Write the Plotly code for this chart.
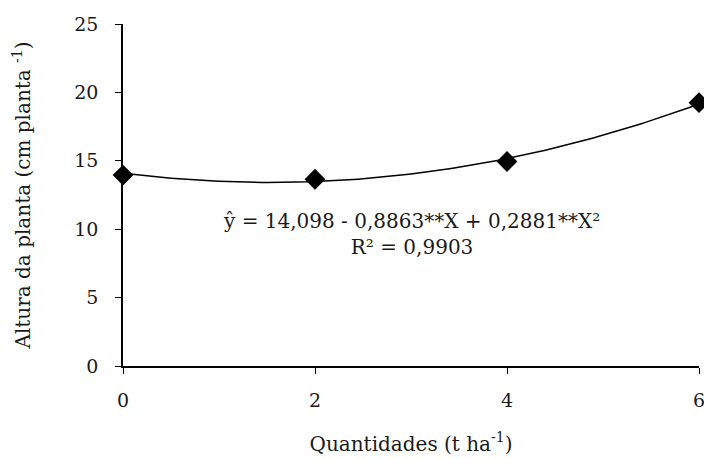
import numpy as np
import plotly.graph_objects as go

quantidades = [0, 2, 4, 6]
altura = [13.96, 13.65, 14.95, 19.25]
coef = [14.098, -0.8863, 0.2881]  # fitted quadratic from the chart's equation

xs = np.linspace(0, 6, 121)
ys = coef[0] + coef[1] * xs + coef[2] * xs ** 2

font = "DejaVu Serif"
tc = "#1a1a1a"

fig = go.Figure()
fig.add_trace(go.Scatter(x=xs, y=ys, mode="lines", cliponaxis=False,
                         line=dict(color="black", width=1.5), showlegend=False))
fig.add_trace(go.Scatter(x=quantidades, y=altura, mode="markers", cliponaxis=False,
                         marker=dict(symbol="diamond", size=16, color="black"),
                         showlegend=False))

fig.add_annotation(x=0.5, y=0.385, xref="paper", yref="paper", showarrow=False,
                   text="ŷ = 14,098 - 0,8863**X + 0,2881**X²<br>R² = 0,9903",
                   font=dict(family=font, size=20, color=tc), align="center")

fig.update_layout(
    width=704, height=459,
    margin=dict(l=123, r=5, t=24, b=93),
    paper_bgcolor="white", plot_bgcolor="white",
    font=dict(family=font, size=19, color=tc),
    xaxis=dict(range=[0, 6], tickvals=[0, 2, 4, 6], showline=True, linecolor="black",
               linewidth=1.5, ticks="outside", ticklen=6, tickcolor="black",
               showgrid=False, zeroline=False, automargin=False,
               ticklabelstandoff=10, ticklabeloverflow="allow",
               tickfont=dict(family=font, size=19, color=tc),
               title=dict(text="Quantidades (t ha<sup>-1</sup>)", standoff=27,
                          font=dict(family=font, size=20, color=tc))),
    yaxis=dict(range=[0, 25], tickvals=[0, 5, 10, 15, 20, 25], showline=True,
               linecolor="black", linewidth=1.5, ticks="outside", ticklen=6,
               tickcolor="black", showgrid=False, zeroline=False, automargin=False,
               ticklabelstandoff=13, ticklabeloverflow="allow",
               tickfont=dict(family=font, size=19, color=tc),
               title=dict(text="Altura da planta (cm planta <sup>-1</sup>)", standoff=38,
                          font=dict(family=font, size=20, color=tc))),
)
fig.write_html("out.html", config={"displayModeBar": False},
               post_script="document.body.style.margin='0';document.body.style.overflow='hidden';")
